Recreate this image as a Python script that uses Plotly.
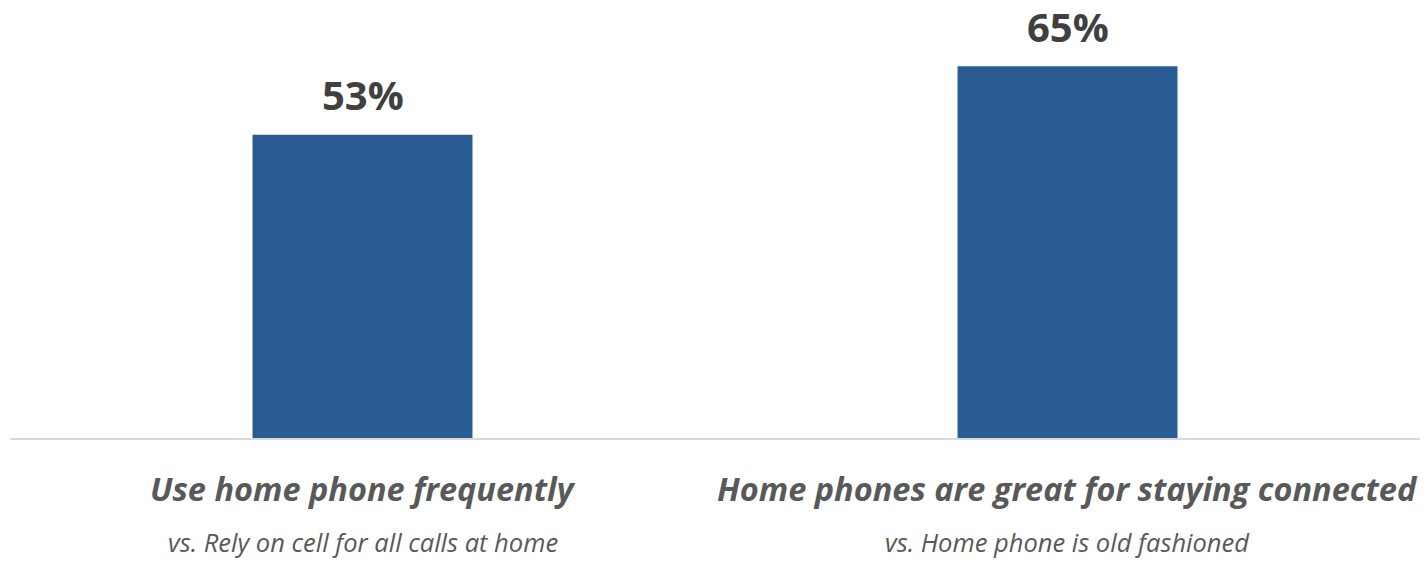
import plotly.graph_objects as go

categories = ["Use home phone frequently", "Home phones are great for staying connected"]
subtitles = ["vs. Rely on cell for all calls at home", "vs. Home phone is old fashioned"]
values = [53, 65]
value_labels = ["53%", "65%"]

FONT = "Open Sans"

fig = go.Figure()
fig.add_trace(go.Bar(
    x=categories, y=values,
    marker=dict(color="#295C93", line=dict(width=0)),
    hoverinfo="skip",
))

annotations = []
for c, v, lab, sub in zip(categories, values, value_labels, subtitles):
    annotations.append(dict(x=c, y=v, xref="x", yref="y", text=f"<b>{lab}</b>",
                            showarrow=False, yanchor="middle", yshift=40,
                            font=dict(family=FONT, size=40, color="#404040")))
    annotations.append(dict(x=c, y=0, xref="x", yref="y", text=f"<b><i>{c}</i></b>",
                            showarrow=False, yanchor="middle", yshift=-50,
                            font=dict(family=FONT, size=32.5, color="#595959")))
    annotations.append(dict(x=c, y=0, xref="x", yref="y", text=f"<i>{sub}</i>",
                            showarrow=False, yanchor="middle", yshift=-104,
                            font=dict(family=FONT, size=25.5, color="#595959")))

fig.update_layout(
    width=1427, height=562,
    margin=dict(l=10, r=7, t=9, b=124),
    plot_bgcolor="white", paper_bgcolor="white",
    bargap=0.688,
    showlegend=False,
    annotations=annotations,
    xaxis=dict(showticklabels=False, showline=True, linecolor="#D9D9D9", linewidth=2,
               ticks="", showgrid=False, zeroline=False),
    yaxis=dict(range=[0, 75], visible=False, showgrid=False, zeroline=False),
)

fig.write_html("out.html")
